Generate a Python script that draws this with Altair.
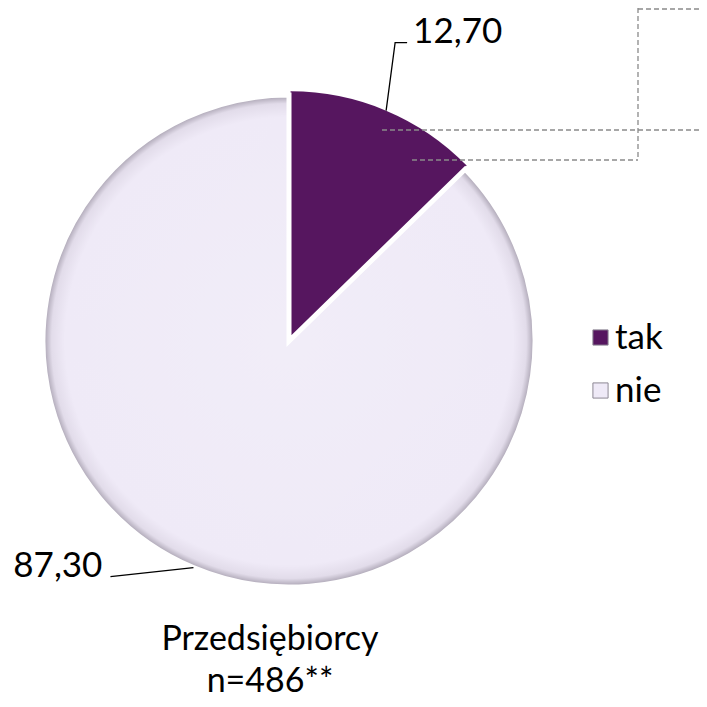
import math
import altair as alt
import pandas as pd

# ---- data ----
categories = ["tak", "nie"]
values = [12.70, 87.30]
value_labels = ["12,70", "87,30"]
title_lines = ["Przedsiębiorcy", "n=486**"]

# ---- layout / style (page pixel coordinates) ----
M = 8                      # page margin
W = H = 691
CX, CY, R = 289, 341, 246  # pie centre and radius
EXPLODE = {"tak": 4, "nie": 0}
FILL = {"tak": "#56165f", "nie": "#efeaf7"}
FONT = "Lato"
FS = 35
TFS = 34
# leader line bends relative to the arc point, then label anchor
LEADER = {"tak": [(9, -68), (21, -68)], "nie": [(-83, 9)]}
LABEL = {"tak": (27, -68, "left"), "nie": (-91, 9, "right")}
TITLE_X = 270
TITLE_Y = [650, 692]
DASHES = [  # decorative dashed connector lines (x1, y1, x2, y2)
    (382, 130, 707, 130),
    (412, 160, 638, 160),
    (638, 8, 638, 160),
    (638, 9, 707, 9),
]


def p(v):
    return v - M


slices, lines, labels = [], [], []
start = 0.0
for cat, v, lab in zip(categories, values, value_labels):
    end = start + v
    mid = (start + end) / 200 * 2 * math.pi
    e = EXPLODE[cat]
    cx = CX + e * math.sin(mid)
    cy = CY - e * math.cos(mid)
    slices.append(dict(cat=cat, start=start, end=end, cx=p(cx), cy=p(cy)))
    ax = cx + R * math.sin(mid)
    ay = cy - R * math.cos(mid)
    lines.append(dict(cat=cat, step=0, x=p(ax), y=p(ay)))
    for i, (dx, dy) in enumerate(LEADER[cat]):
        lines.append(dict(cat=cat, step=i + 1, x=p(ax + dx), y=p(ay + dy)))
    lx, ly, al = LABEL[cat]
    labels.append(dict(cat=cat, text=lab, x=p(ax + lx), y=p(ay + ly), align=al))
    start = end

slices = pd.DataFrame(slices)
lines = pd.DataFrame(lines)
labels = pd.DataFrame(labels)
titles = pd.DataFrame(dict(text=title_lines, x=[p(TITLE_X)] * 2, y=[p(v) for v in TITLE_Y]))
dashes = pd.DataFrame([dict(x=p(a), y=p(b), x2=p(c), y2=p(d)) for a, b, c, d in DASHES])

xs = alt.Scale(domain=[0, W], range=[0, W], nice=False, zero=False)
ys = alt.Scale(domain=[0, H], range=[0, H], nice=False, zero=False)
ts = alt.Scale(domain=[0, 100], range=[0, 2 * math.pi])

X = lambda f: alt.X(f, scale=xs, axis=None)
Y = lambda f: alt.Y(f, scale=ys, axis=None)

pie = alt.Chart(slices).mark_arc(outerRadius=R).encode(
    x=X("cx:Q"), y=Y("cy:Q"),
    theta=alt.Theta("start:Q", stack=None, scale=ts), theta2="end:Q",
    color=alt.Color(
        "cat:N",
        scale=alt.Scale(domain=categories, range=[FILL[c] for c in categories]),
        legend=alt.Legend(
            title=None, orient="none", legendX=p(583), legendY=p(320),
            labelFont=FONT, labelFontSize=FS, labelColor="black",
            symbolType="square", symbolSize=230, symbolStrokeColor="#8d8894",
            symbolStrokeWidth=1, rowPadding=17, labelOffset={"expr": "-3"},
        ),
    ),
)

nie_grad = {
    "gradient": "radial", "x1": 0.5, "y1": 0.5, "x2": 0.5, "y2": 0.5, "r1": 0, "r2": 0.5,
    "stops": [
        {"offset": 0, "color": "#f1edf8"},
        {"offset": 0.91, "color": "#efeaf7"},
        {"offset": 0.965, "color": "#e2dcea"},
        {"offset": 1, "color": "#a39cab"},
    ],
}
nie_overlay = alt.Chart(slices).transform_filter(alt.datum.cat == "nie").mark_arc(
    outerRadius=R, fill=nie_grad, stroke="white", strokeWidth=5
).encode(
    x=X("cx:Q"), y=Y("cy:Q"),
    theta=alt.Theta("start:Q", stack=None, scale=ts), theta2="end:Q",
)

leaders = alt.Chart(lines).mark_line(color="black", strokeWidth=1.3).encode(
    x=X("x:Q"), y=Y("y:Q"), detail="cat:N", order="step:Q"
)

lab_left = alt.Chart(labels).transform_filter(alt.datum.align == "left").mark_text(
    align="left", baseline="alphabetic", font=FONT, fontSize=FS, color="black"
).encode(x=X("x:Q"), y=Y("y:Q"), text="text:N")
lab_right = alt.Chart(labels).transform_filter(alt.datum.align == "right").mark_text(
    align="right", baseline="alphabetic", font=FONT, fontSize=FS, color="black"
).encode(x=X("x:Q"), y=Y("y:Q"), text="text:N")

title = alt.Chart(titles).mark_text(
    align="center", baseline="alphabetic", font=FONT, fontSize=TFS, color="black"
).encode(x=X("x:Q"), y=Y("y:Q"), text="text:N")

dash = alt.Chart(dashes).mark_rule(color="#8a8a8a", strokeWidth=1.3, strokeDash=[5, 3]).encode(
    x=X("x:Q"), y=Y("y:Q"), x2="x2:Q", y2="y2:Q"
)

chart = alt.layer(pie, nie_overlay, dash, leaders, lab_left, lab_right, title).properties(
    width=W, height=H, padding=0, autosize=alt.AutoSizeParams(type="none")
).configure_view(stroke=None)

chart.save("out.html", embed_options={"renderer": "svg", "actions": False})
